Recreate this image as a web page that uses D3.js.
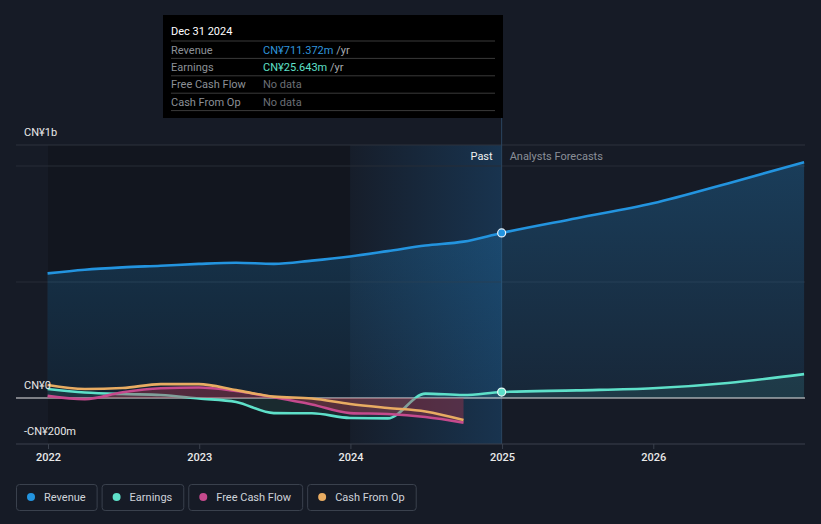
<!DOCTYPE html>
<html><head><meta charset="utf-8">
<script src="https://cdn.jsdelivr.net/npm/d3@7/dist/d3.min.js"></script>
<style>
html,body{margin:0;padding:0;background:#161b26;}
svg{display:block;font-family:Roboto,"Noto Sans",sans-serif;}
</style></head><body>
<svg id="chart" width="821" height="524"></svg>
<script>
// ---- data (values in CN¥ millions) ----
const pastDates = ["2021-12-31","2022-03-31","2022-06-30","2022-09-30","2022-12-31","2023-03-31","2023-06-30","2023-09-30","2023-12-31","2024-03-31","2024-06-30","2024-09-30","2024-12-31"];
const revenuePast = [537,553,563,570,578,583,578,592,610,633,657,674,711.372];
const earningsPast = [39,24,17,13,-2,-17,-65,-66,-86,-88,19,13,25.643];
const cashDates = ["2021-12-31","2022-03-31","2022-06-30","2022-09-30","2022-12-31","2023-03-31","2023-06-30","2023-09-30","2023-12-31","2024-03-31","2024-06-30","2024-09-30"];
const fcfPast = [9,-5,25,42,45,30,3,-28,-65,-69,-82,-106];
const cfoPast = [56,39,43,60,60,34,6,-2,-26,-43,-58,-95];
const forecastDates = ["2024-12-31","2025-06-30","2025-12-31","2026-06-30","2026-12-31"];
const revenueForecast = [711.372,775,839,925,1016];
const earningsForecast = [25.643,33,42,65,103];
const xTickYears = [2022,2023,2024,2025,2026];
const yTickLabels = [{v:1000,t:"CN¥1b"},{v:0,t:"CN¥0"},{v:-200,t:"-CN¥200m"}];
const legendItems = [{n:"Revenue",c:"#2394df"},{n:"Earnings",c:"#5ee0c9"},{n:"Free Cash Flow",c:"#c54a8d"},{n:"Cash From Op",c:"#e8ac62"}];
const tooltipRows = [
  {label:"Revenue", value:"CN¥711.372m", unit:" /yr", color:"#2f95dc"},
  {label:"Earnings", value:"CN¥25.643m", unit:" /yr", color:"#5ee0c9"},
  {label:"Free Cash Flow", value:"No data", unit:"", color:"#6b6f76"},
  {label:"Cash From Op", value:"No data", unit:"", color:"#6b6f76"}
];

(function(){
const parse = d3.timeParse("%Y-%m-%d");
const svg = d3.select("#chart");
const pLeft = 16, pRight = 805, pTop = 145, pBottom = 444;

const x = d3.scaleTime().domain([new Date(2022,0,1), new Date(2027,0,1)]).range([48, 804.5]);
const y = d3.scaleLinear().domain([0, 1000]).range([398, 166]);

const defs = svg.append("defs");
const band = defs.append("linearGradient").attr("id","band").attr("x1","0").attr("x2","1").attr("y1","0").attr("y2","0");
band.append("stop").attr("offset","0").attr("stop-color","#2196f3").attr("stop-opacity",0.02);
band.append("stop").attr("offset","1").attr("stop-color","#2196f3").attr("stop-opacity",0.2);
const revG = defs.append("linearGradient").attr("id","revfill").attr("x1","0").attr("x2","0").attr("y1","0").attr("y2","1");
revG.append("stop").attr("offset","0").attr("stop-color","#2394df").attr("stop-opacity",0.28);
revG.append("stop").attr("offset","1").attr("stop-color","#2394df").attr("stop-opacity",0.1);

const nowX = x(parse("2024-12-31"));
const yearAgoX = x(parse("2023-12-31"));

svg.append("rect").attr("x",48).attr("y",pTop).attr("width",yearAgoX-48).attr("height",pBottom-pTop).attr("fill","#000").attr("opacity",0.18);
svg.append("rect").attr("x",yearAgoX).attr("y",pTop).attr("width",nowX-yearAgoX).attr("height",pBottom-pTop).attr("fill","url(#band)");

svg.append("line").attr("x1",pLeft).attr("x2",pRight).attr("y1",pTop).attr("y2",pTop).attr("stroke","#2c323d").attr("stroke-width",1);
[1000,500].forEach(v=>svg.append("line").attr("x1",pLeft).attr("x2",pRight).attr("y1",y(v)).attr("y2",y(v)).attr("stroke","#262c37").attr("stroke-width",1));

svg.append("line").attr("x1",nowX).attr("x2",nowX).attr("y1",118).attr("y2",pBottom).attr("stroke","#2b4560").attr("stroke-width",1);

const revenueAll = pastDates.map((d,i)=>({d:parse(d),v:revenuePast[i]})).concat(forecastDates.slice(1).map((d,i)=>({d:parse(d),v:revenueForecast[i+1]})));
const earnPast = pastDates.map((d,i)=>({d:parse(d),v:earningsPast[i]}));
const earnFc = forecastDates.map((d,i)=>({d:parse(d),v:earningsForecast[i]}));
const earnAll = earnPast.concat(earnFc.slice(1));
const fcf = cashDates.map((d,i)=>({d:parse(d),v:fcfPast[i]}));
const cfo = cashDates.map((d,i)=>({d:parse(d),v:cfoPast[i]}));

const curve = d3.curveMonotoneX;
const line = d3.line().x(p=>x(p.d)).y(p=>y(p.v)).curve(curve);
const area = d3.area().x(p=>x(p.d)).y0(y(0)).y1(p=>y(p.v)).curve(curve);

svg.append("path").datum(revenueAll).attr("d",area).attr("fill","url(#revfill)");
svg.append("path").datum(earnAll).attr("d",area).attr("fill","#5ee0c9").attr("opacity",0.1);

svg.append("line").attr("x1",pLeft).attr("x2",pRight).attr("y1",y(0)).attr("y2",y(0)).attr("stroke","#e6e6e6").attr("stroke-width",1.2);
svg.append("line").attr("x1",pLeft).attr("x2",pRight).attr("y1",pBottom).attr("y2",pBottom).attr("stroke","#3a414d").attr("stroke-width",1);

svg.append("path").datum(earnAll).attr("d",line).attr("fill","none").attr("stroke","#5ee0c9").attr("stroke-width",2.6);
svg.append("path").datum(fcf).attr("d",area).attr("fill","#b8384f").attr("opacity",0.38);
svg.append("path").datum(fcf).attr("d",line).attr("fill","none").attr("stroke","#c54a8d").attr("stroke-width",2.6);
svg.append("path").datum(cfo).attr("d",line).attr("fill","none").attr("stroke","#e8ac62").attr("stroke-width",2.6);
svg.append("path").datum(revenueAll).attr("d",line).attr("fill","none").attr("stroke","#2394df").attr("stroke-width",2.6);

svg.append("circle").attr("cx",nowX).attr("cy",y(revenuePast[revenuePast.length-1])).attr("r",4).attr("fill","#2394df").attr("stroke","#e8f2fb").attr("stroke-width",1.2);
svg.append("circle").attr("cx",nowX).attr("cy",y(earningsPast[earningsPast.length-1])).attr("r",4).attr("fill","#5ee0c9").attr("stroke","#e8fbf6").attr("stroke-width",1.2);

const xAxis = d3.axisBottom(x).tickValues(xTickYears.map(yr=>new Date(yr,0,1))).tickFormat(d3.timeFormat("%Y")).tickSize(5).tickPadding(4);
const gx = svg.append("g").attr("transform",`translate(0,${pBottom})`).call(xAxis);
gx.select(".domain").remove();
gx.selectAll(".tick line").attr("stroke","#3a414d");
gx.selectAll(".tick text").attr("fill","#e8e8e8").attr("font-size",11).attr("font-family","Roboto, sans-serif").attr("font-weight",500);

yTickLabels.forEach(t=>{
  const yy = t.v===1000 ? pTop-9 : y(t.v)-9;
  svg.append("text").attr("x",24).attr("y",yy).attr("fill","#e8e8e8").attr("font-size",11).text(t.t);
});

svg.append("text").attr("x",nowX-9).attr("y",160).attr("text-anchor","end").attr("fill","#f0f0f0").attr("font-size",11).text("Past");
svg.append("text").attr("x",nowX+8).attr("y",160).attr("fill","#8a8f98").attr("font-size",11).text("Analysts Forecasts");

const tt = svg.append("g");
tt.append("rect").attr("x",163).attr("y",15).attr("width",340).attr("height",103).attr("fill","#000");
tt.append("text").attr("x",171).attr("y",35).attr("fill","#ffffff").attr("font-size",11).text("Dec 31 2024");
tooltipRows.forEach((r,i)=>{
  const ly = 41 + i*17.4;
  tt.append("line").attr("x1",171).attr("x2",495).attr("y1",ly).attr("y2",ly).attr("stroke","#3a3a3a");
  tt.append("text").attr("x",171).attr("y",ly+12.5).attr("fill","#8c9097").attr("font-size",11).text(r.label);
  const t = tt.append("text").attr("x",263).attr("y",ly+12.5).attr("font-size",11);
  t.append("tspan").attr("fill",r.color).text(r.value);
  if(r.unit) t.append("tspan").attr("fill","#a8abb0").text(r.unit);
});
tt.append("line").attr("x1",171).attr("x2",495).attr("y1",110.6).attr("y2",110.6).attr("stroke","#3a3a3a");

let lx = 16;
legendItems.forEach(it=>{
  const g = svg.append("g");
  const txt = g.append("text").attr("x",lx+28).attr("y",501).attr("fill","#cfd3da").attr("font-size",11).text(it.n);
  const w = txt.node().getComputedTextLength() + 39;
  g.insert("rect","text").attr("x",lx+0.5).attr("y",484.5).attr("width",w).attr("height",26).attr("rx",3).attr("fill","none").attr("stroke","#3a414d");
  g.append("circle").attr("cx",lx+15).attr("cy",497).attr("r",4).attr("fill",it.c);
  lx += w + 5;
});
})();
</script>
</body></html>
